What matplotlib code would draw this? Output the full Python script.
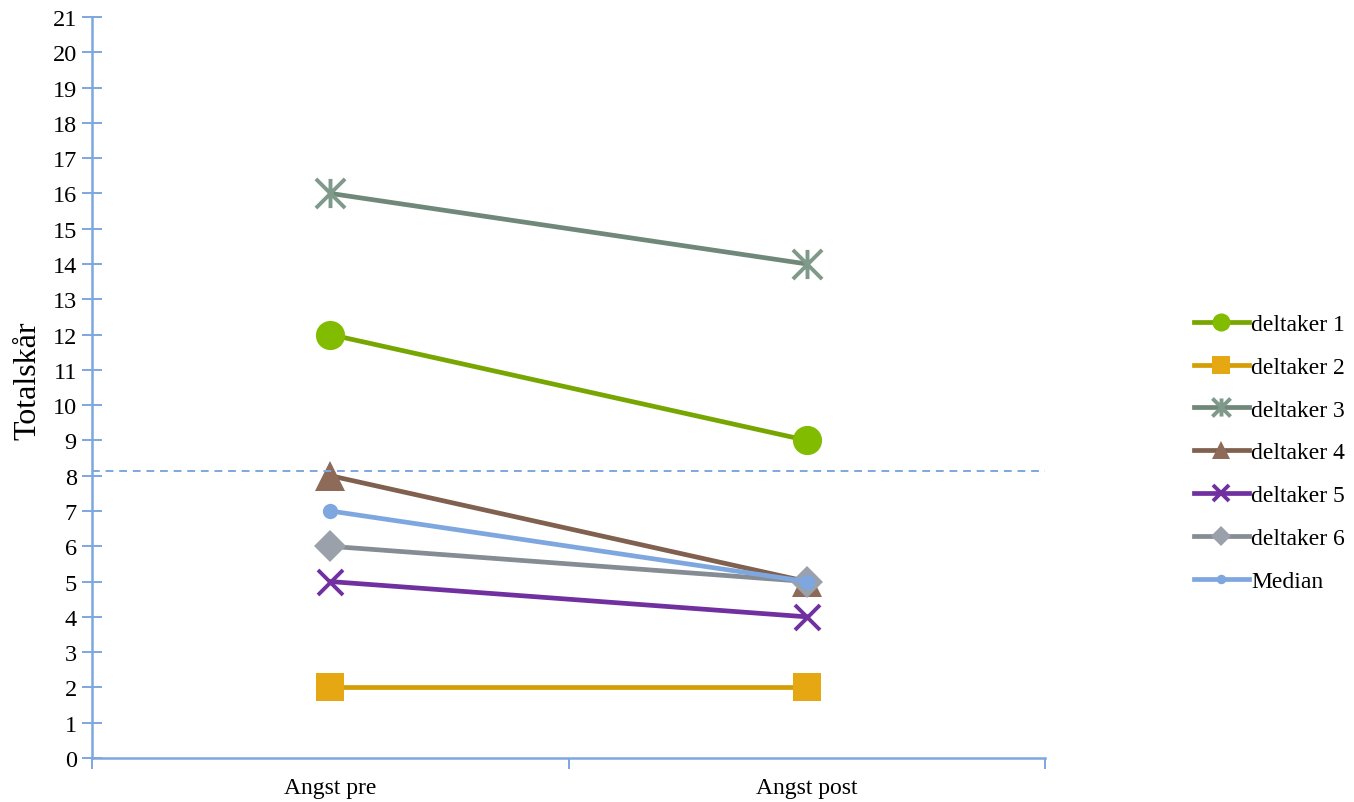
"""Recreate the Totalskår pre/post line chart"""
import matplotlib
matplotlib.use('Agg')
import matplotlib.pyplot as plt
from matplotlib.path import Path

plt.rcParams['font.family'] = ['Liberation Serif', 'DejaVu Serif']

categories = ['Angst pre', 'Angst post']
deltaker1 = [12, 9]
deltaker2 = [2, 2]
deltaker3 = [16, 14]
deltaker4 = [8, 5]
deltaker5 = [5, 4]
deltaker6 = [6, 5]
median = [7, 5]
cutoff = 8.13
yticks = list(range(0, 22))

axis_blue = '#7EA6E0'

# Excel style "star" marker: an X with a vertical bar through it
star = Path([(-1, -1), (1, 1), (-1, 1), (1, -1), (0, -1), (0, 1)],
            [Path.MOVETO, Path.LINETO, Path.MOVETO, Path.LINETO,
             Path.MOVETO, Path.LINETO])

series = [
    ('deltaker 1', deltaker1, '#77A600', '#82BC00', 'o', 21, 0),
    ('deltaker 2', deltaker2, '#D49E06', '#E5A712', 's', 20, 0),
    ('deltaker 3', deltaker3, '#6F8879', '#7F998A', star, 21, 2.8),
    ('deltaker 4', deltaker4, '#80604F', '#8E6A58', '^', 21, 0),
    ('deltaker 5', deltaker5, '#7030A0', '#7030A0', 'x', 18, 2.8),
    ('deltaker 6', deltaker6, '#868C94', '#9AA1AA', 'D', 16, 0),
    ('Median', median, '#7EA7E0', '#7EA7E0', 'o', 11, 0),
]

fig = plt.figure(figsize=(13.54, 8.03), dpi=100)
ax = fig.add_axes([0.068, 0.0548, 0.704, 0.9228])

x = list(range(len(categories)))
for label, vals, lc, mc, marker, ms, mew in series:
    if mew:
        ax.plot(x, vals, color=lc, linewidth=3.4, marker=marker, markersize=ms,
                markeredgecolor=mc, markeredgewidth=mew, label=label,
                clip_on=False)
    else:
        ax.plot(x, vals, color=lc, linewidth=3.4, marker=marker, markersize=ms,
                markerfacecolor=mc, markeredgecolor=mc, markeredgewidth=0,
                label=label, clip_on=False)

ax.axhline(cutoff, color=axis_blue, linewidth=1.4, linestyle=(0, (4, 3)))

ax.set_xlim(-0.5, 1.5)
ax.set_ylim(0, 21)
ax.set_yticks(yticks)
ax.set_xticks(x)
ax.set_xticklabels(categories)
ax.set_xticks([-0.5, 0.5, 1.5], minor=True)
ax.tick_params(axis='x', which='major', length=0, labelsize=17, pad=14)
ax.tick_params(axis='x', which='minor', length=8, width=1.4,
               color=axis_blue, direction='out')
ax.tick_params(axis='y', length=14, width=1.4, color=axis_blue,
               direction='inout', labelsize=17.5, pad=4)
ax.set_ylabel('Totalskår', fontsize=23)
ax.yaxis.set_label_coords(-0.052, 0.51)

for side in ['top', 'right']:
    ax.spines[side].set_visible(False)
for side in ['left', 'bottom']:
    ax.spines[side].set_color(axis_blue)
    ax.spines[side].set_linewidth(1.8)

ax.legend(loc='center left', bbox_to_anchor=(0.882, 0.435),
          bbox_transform=fig.transFigure, frameon=False, fontsize=17,
          handlelength=2.3, handletextpad=0.1, labelspacing=0.9,
          markerscale=0.62, borderpad=0, borderaxespad=0)

fig.savefig('out.png', dpi=100)
